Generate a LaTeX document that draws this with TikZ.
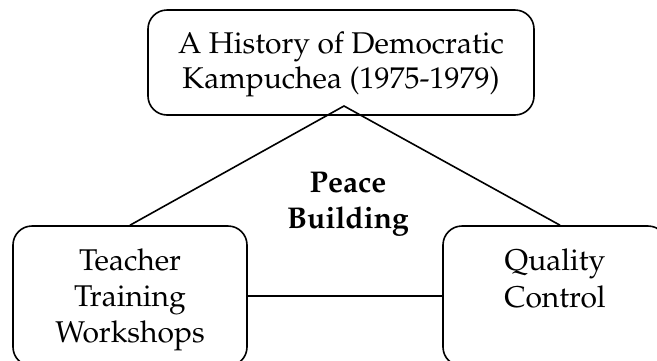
\documentclass[tikz,border=0pt]{standalone}
\usepackage[T1]{fontenc}
\usepackage{mathpazo}
\begin{document}
\begin{tikzpicture}[x=1pt,y=-1pt,
  box/.style={draw, line width=1.6pt, rounded corners=19pt, inner sep=0pt},
  txt/.style={align=center, font=\fontsize{30}{35.5}\selectfont, inner sep=0pt},
  link/.style={line width=1.6pt}]
\useasboundingbox (0,0) rectangle (657,360);
\clip (0,0) rectangle (657,360);
\node[box, minimum width=386pt, minimum height=105pt] (top) at (341,62.5) {};
\node[box, minimum width=234pt, minimum height=140pt] (lb) at (130,296) {};
\node[box, minimum width=224pt, minimum height=140pt] (rb) at (555,296) {};
\node[txt, anchor=base] (toptxt) at (341,53) {A History of Democratic};
\node[txt, anchor=base] (toptxt2) at (341,88) {Kampuchea (1975-1979)};
\node[txt, anchor=base] (l1) at (130,270) {Teacher};
\node[txt, anchor=base] (l2) at (130,306) {Training};
\node[txt, anchor=base] (l3) at (130,342) {Workshops};
\node[txt, anchor=base] (r1) at (555,270) {Quality};
\node[txt, anchor=base] (r2) at (555,307) {Control};
\node[txt, anchor=base, font=\fontsize{30}{36}\selectfont\bfseries] (p1) at (348,192) {Peace};
\node[txt, anchor=base, font=\fontsize{30}{36}\selectfont\bfseries] (p2) at (348,228) {Building};
\coordinate (apex) at (344,106);
\draw[link] (lb.north) -- (apex) -- ([xshift=5pt]rb.north);
\draw[link] (lb.east) -- (rb.west);
\end{tikzpicture}
\end{document}
